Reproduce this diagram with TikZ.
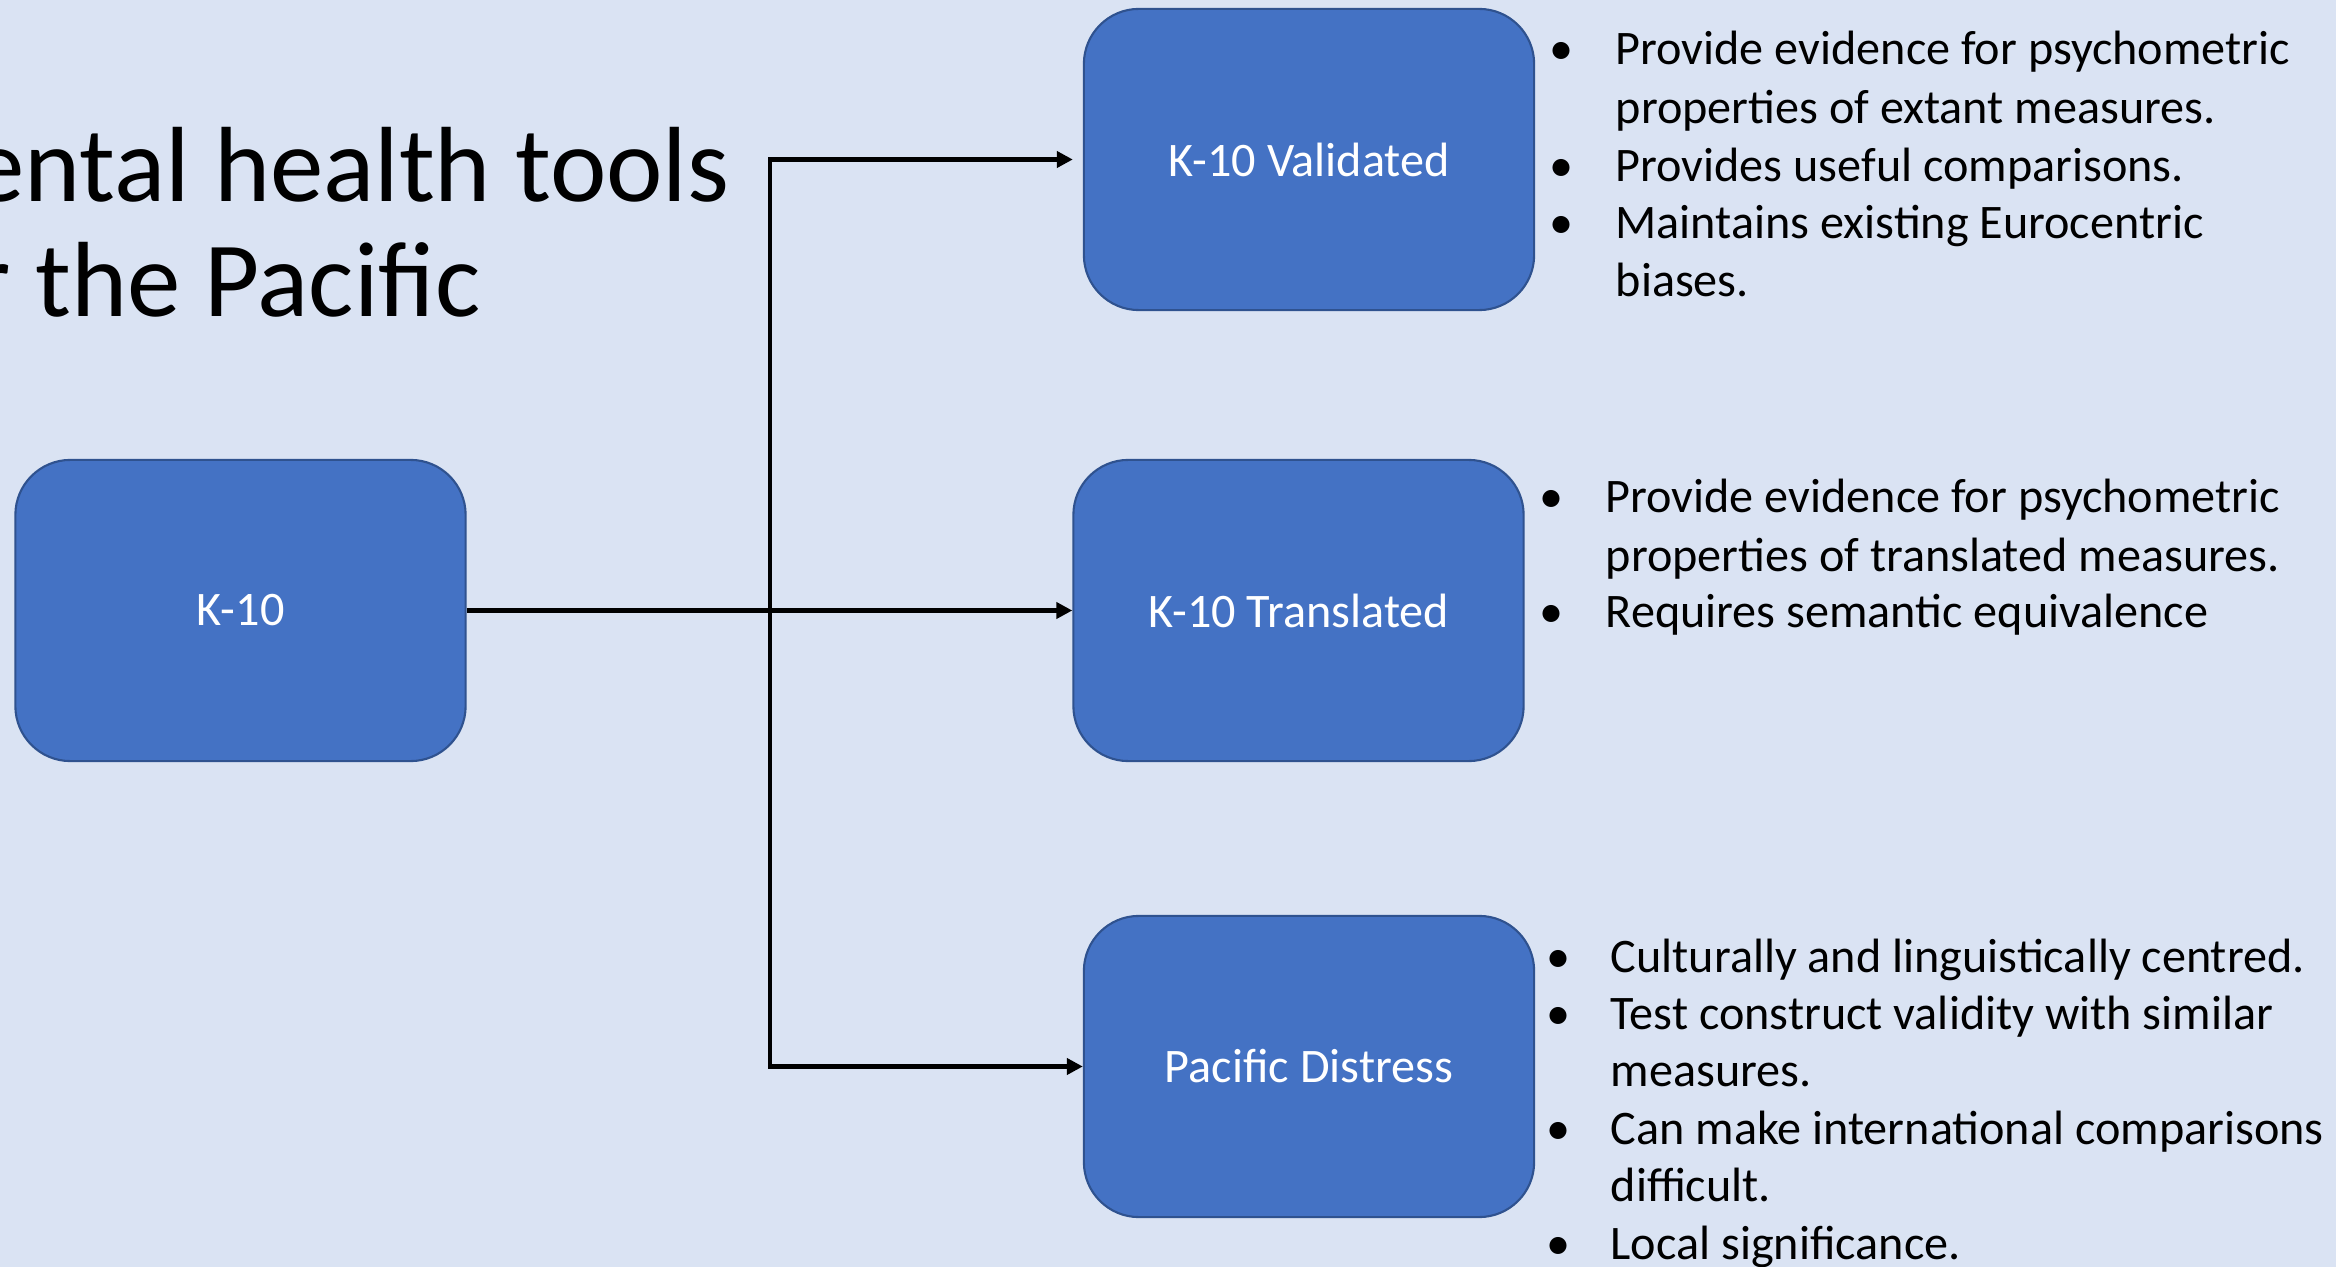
\documentclass[tikz,border=0pt]{standalone}
\usepackage{fontspec}
\setmainfont{Carlito}
\usetikzlibrary{arrows.meta}
\definecolor{bg}{HTML}{DAE3F3}
\definecolor{boxfill}{HTML}{4472C4}
\definecolor{boxline}{HTML}{2F528F}
\newcommand\bulA[1]{\llap{\makebox[0pt]{\textbullet}\hspace{#1}}}
\begin{document}
\begin{tikzpicture}[x=0.01cm,y=-0.01cm,
  box/.style={draw=boxline, line width=0.6pt, fill=boxfill, rounded corners=0.55cm,
    minimum width=4.5cm, minimum height=3.01cm, text=white,
    font=\fontsize{13.7}{16}\selectfont, inner sep=0},
  conn/.style={line width=1.15pt, -{Triangle[length=0.16cm,width=0.16cm]}},
  bt/.style={anchor=base west, inner sep=0, font=\fontsize{13.7}{16}\selectfont},
  ttl/.style={anchor=base east, inner sep=0, font=\fontsize{30.4}{36}\selectfont}]
\useasboundingbox (0,0) rectangle (2336,1267);
\fill[bg] (0,0) rectangle (2336,1267);
\clip (0,0) rectangle (2336,1267);
% title
\node[ttl] (t1) at (730,202) {ental health tools};
\node[ttl] (t2) at (481,317) {r the Pacific};
% boxes
\node[box] (k10) at (240.5,610.5) {K-10};
\node[box] (val) at (1309,159.5) {K-10 Validated};
\node[box] (tra) at (1298.5,610.5) {K-10 Translated};
\node[box] (pac) at (1309,1066.5) {Pacific Distress};
% connectors
\coordinate (j) at (770,610.5);
\draw[conn] (k10.east) -- (tra.west);
\draw[conn] (j) |- ([xshift=-0.1cm]val.west);
\draw[conn] (j) |- (pac.west);
% validated bullets
\node[bt] (v1) at (1615,65) {\bulA{0.54cm}Provide evidence for psychometric};
\node[bt] (v2) at (1615,124) {properties of extant measures.};
\node[bt] (v3) at (1615,182) {\bulA{0.54cm}Provides useful comparisons.};
\node[bt] (v4) at (1615,239) {\bulA{0.54cm}Maintains existing Eurocentric};
\node[bt] (v5) at (1615,297) {biases.};
% translated bullets
\node[bt] (r1) at (1605,513) {\bulA{0.54cm}Provide evidence for psychometric};
\node[bt] (r2) at (1605,571) {properties of translated measures.};
\node[bt] (r3) at (1605,627) {\bulA{0.54cm}Requires semantic equivalence};
% pacific bullets
\node[bt] (p1) at (1610,972) {\bulA{0.52cm}Culturally and linguistically centred.};
\node[bt] (p2) at (1610,1029) {\bulA{0.52cm}Test construct validity with similar};
\node[bt] (p3) at (1610,1086) {measures.};
\node[bt] (p4) at (1610,1144) {\bulA{0.52cm}Can make international comparisons};
\node[bt] (p5) at (1610,1201) {difficult.};
\node[bt] (p6) at (1610,1259) {\bulA{0.52cm}Local significance.};
\end{tikzpicture}
\end{document}
